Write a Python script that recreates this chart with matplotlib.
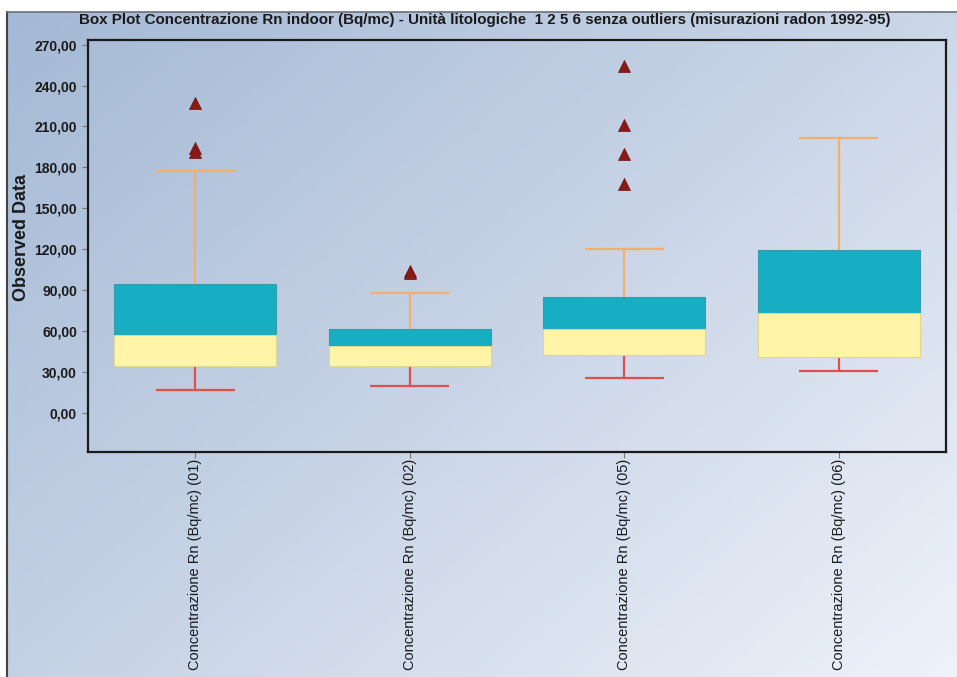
import numpy as np
import matplotlib
matplotlib.use("Agg")
import matplotlib.pyplot as plt
from matplotlib.colors import LinearSegmentedColormap

# ---- data ----
categories = ["Concentrazione Rn (Bq/mc) (01)", "Concentrazione Rn (Bq/mc) (02)",
              "Concentrazione Rn (Bq/mc) (05)", "Concentrazione Rn (Bq/mc) (06)"]
whisker_low = [16.5, 19.5, 25.0, 30.5]
q1 = [34.0, 34.5, 42.5, 41.0]
median = [57.0, 48.5, 61.5, 73.0]
q3 = [94.0, 61.5, 84.5, 119.0]
whisker_high = [177.0, 87.5, 120.0, 201.5]
outliers = [[227.0, 194.0, 191.0], [104.0, 102.5], [254.5, 211.0, 190.0, 168.0], []]
yticks = [0, 30, 60, 90, 120, 150, 180, 210, 240, 270]
ytick_labels = ["0,00", "30,00", "60,00", "90,00", "120,00", "150,00",
                "180,00", "210,00", "240,00", "270,00"]
title = ("Box Plot Concentrazione Rn indoor (Bq/mc) - Unità litologiche  1 2 5 6 "
         "senza outliers (misurazioni radon 1992-95)")

plt.rcParams['font.family'] = ['Liberation Sans', 'DejaVu Sans']

W, H = 957, 677
fig = plt.figure(figsize=(W / 100, H / 100), dpi=100, facecolor="white")

# gradient background panel
bg = fig.add_axes([7 / W, 0, 1 - 7 / W, 1 - 12 / H], zorder=0)
cmap = LinearSegmentedColormap.from_list("bg", ["#a4b9d5", "#c8d4e6", "#eef2fa"])
ny, nx = 200, 300
yy, xx = np.mgrid[0:1:ny * 1j, 0:1:nx * 1j]
grad = 0.55 * xx + 0.45 * yy
bg.imshow(grad, cmap=cmap, aspect="auto", extent=[0, 1, 1, 0], vmin=0, vmax=1)
bg.set_xlim(0, 1)
bg.set_ylim(1, 0)
bg.set_xticks([])
bg.set_yticks([])
for s in ["right", "bottom"]:
    bg.spines[s].set_visible(False)
bg.spines["left"].set_color("#444444")
bg.spines["top"].set_color("#6a6f78")
bg.spines["left"].set_linewidth(1.5)
bg.spines["top"].set_linewidth(1.2)

ax = fig.add_axes([88 / W, 1 - 452 / H, (946 - 88) / W, (452 - 40) / H], zorder=1)
ax.set_facecolor("none")

x = np.arange(len(categories)) + 0.5
bw = 0.755
cw = 0.37

teal = "#17aec4"
yellow = "#fff4a8"
up_wh = "#f2b06a"
lo_wh = "#e0504a"
out_c = "#8b1a16"

ql = np.array(q1); md = np.array(median); qh = np.array(q3)
ax.vlines(x, qh, whisker_high, color=up_wh, lw=1.6, zorder=2)
ax.hlines(whisker_high, x - cw / 2, x + cw / 2, color=up_wh, lw=1.6, zorder=2)
ax.vlines(x, whisker_low, ql, color=lo_wh, lw=1.6, zorder=2)
ax.hlines(whisker_low, x - cw / 2, x + cw / 2, color=lo_wh, lw=1.6, zorder=2)
ax.bar(x, qh - md, bottom=md, width=bw, color=teal, edgecolor="#3b9aa8", lw=0.8, zorder=3)
ax.bar(x, md - ql, bottom=ql, width=bw, color=yellow, edgecolor="#e3d78e", lw=0.8, zorder=3)

for xi, outs in zip(x, outliers):
    if outs:
        ax.scatter([xi] * len(outs), outs, marker="^", s=75, color=out_c,
                   edgecolor="#6e130f", lw=0.5, zorder=4)

ax.set_xlim(0, len(categories))
ax.set_ylim(-29, 273.5)
ax.set_yticks(yticks)
ax.set_yticklabels(ytick_labels, fontsize=10, fontweight="bold", color="#1a1a1a")
ax.set_xticks(x)
ax.set_xticklabels(categories, rotation=90, fontsize=10.5, color="#1a1a1a")
ax.tick_params(axis="y", length=4, color="#777777", pad=4)
ax.tick_params(axis="x", length=4, color="#777777", pad=1)
for s in ax.spines.values():
    s.set_linewidth(1.6)
    s.set_color("#1a1a1a")

fig.text(22 / W, 1 - 238 / H, "Observed Data", rotation=90, fontsize=13,
         fontweight="bold", ha="center", va="center", color="#1a1a1a")
fig.text(485 / W, 1 - 20 / H, title, fontsize=10.9, fontweight="bold",
         ha="center", va="center", color="#1a1a1a")

fig.savefig("out.png", dpi=100, facecolor="white")
